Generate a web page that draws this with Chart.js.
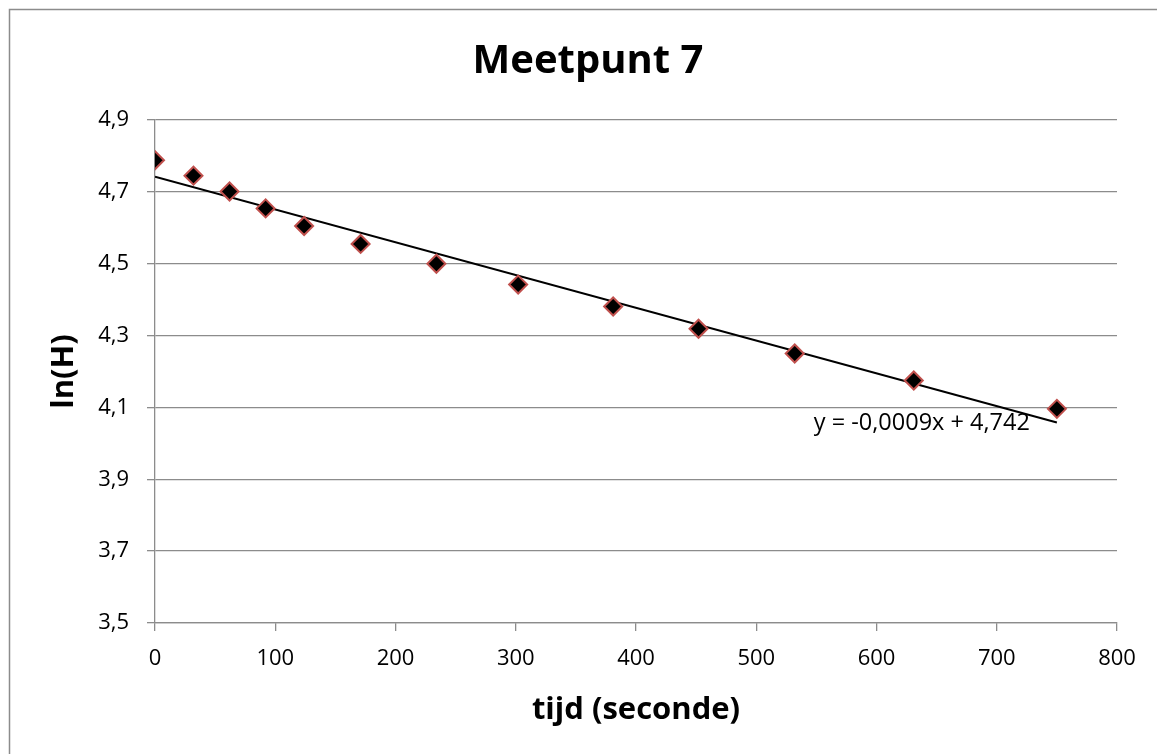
<!DOCTYPE html>
<html>
<head>
<meta charset="utf-8">
<script src="https://cdn.jsdelivr.net/npm/chart.js@4"></script>
<style>
  html, body { margin: 0; padding: 0; background: #fff; }
  #wrap { width: 1157px; height: 754px; position: relative; }
</style>
</head>
<body>
<div id="wrap"><canvas id="c" width="1157" height="754"></canvas></div>
<script>
// ---- data ----
const timeS = [0, 32, 62, 92, 124, 171, 234, 302, 381, 452, 532, 631, 750];
const lnH   = [4.788, 4.745, 4.701, 4.654, 4.605, 4.555, 4.500, 4.442, 4.381, 4.319, 4.250, 4.175, 4.096];
const trendX = [0, 750];
const trendY = [4.742, 4.058];
const equationText = 'y = -0,0009x + 4,742';
const titleText = 'Meetpunt 7';
const xTitle = 'tijd (seconde)';
const yTitle = 'ln(H)';
const xMin = 0, xMax = 800, xStep = 100;
const yMin = 3.5, yMax = 4.9, yStep = 0.2;

const GREY = '#8c8c8c';
const FONT = "'Open Sans', 'Liberation Sans', sans-serif";

const decorPlugin = {
  id: 'decor',
  beforeDraw(chart) {
    const ctx = chart.ctx;
    ctx.save();
    ctx.strokeStyle = GREY;
    ctx.lineWidth = 1.5;
    ctx.strokeRect(9.5, 9.5, 1200, 800);
    ctx.restore();
  },
  afterDraw(chart) {
    const ctx = chart.ctx;
    ctx.save();
    ctx.font = 'bold 40px ' + FONT;
    ctx.fillStyle = '#000';
    ctx.textAlign = 'center';
    ctx.textBaseline = 'alphabetic';
    ctx.fillText(titleText, 588, 73);
    ctx.restore();
  },
  afterDatasetsDraw(chart) {
    const ctx = chart.ctx;
    const xs = chart.scales.x, ys = chart.scales.y;
    const px = xs.getPixelForValue(trendX[1]) - 27;
    const py = ys.getPixelForValue(trendY[1]);
    ctx.save();
    ctx.font = '23.5px ' + FONT;
    ctx.fillStyle = '#000';
    ctx.textAlign = 'right';
    ctx.textBaseline = 'middle';
    ctx.fillText(equationText, px, py + 1);
    ctx.restore();
  }
};

const toComma = (v, d) => Number(v).toFixed(d).replace('.', ',');

new Chart(document.getElementById('c'), {
  type: 'scatter',
  data: {
    datasets: [
      {
        label: 'Meetpunt 7',
        data: timeS.map((t, i) => ({ x: t, y: lnH[i] })),
        pointStyle: 'rectRot',
        pointRadius: 9,
        pointHoverRadius: 9,
        backgroundColor: '#000000',
        borderColor: '#c0504d',
        pointBorderWidth: 2,
        showLine: false,
        order: 1
      },
      {
        label: 'Trendlijn',
        data: trendX.map((t, i) => ({ x: t, y: trendY[i] })),
        showLine: true,
        borderColor: '#000000',
        borderWidth: 2,
        pointRadius: 0,
        fill: false,
        order: 2
      }
    ]
  },
  options: {
    responsive: false,
    animation: false,
    devicePixelRatio: 1,
    layout: { padding: { top: 120, left: 0, right: 40, bottom: 0 } },
    plugins: {
      legend: { display: false },
      tooltip: { enabled: false },
      title: { display: false }
    },
    scales: {
      x: {
        type: 'linear',
        min: xMin, max: xMax,
        ticks: {
          stepSize: xStep,
          color: '#000',
          font: { family: FONT, size: 22 },
          padding: 15,
          maxRotation: 0,
          callback: v => String(v)
        },
        grid: { drawOnChartArea: false, drawTicks: true, tickLength: 8, color: GREY, lineWidth: 1.3 },
        border: { display: true, color: GREY, width: 1.3 },
        title: {
          display: true, text: xTitle, color: '#000',
          font: { family: FONT, size: 31, weight: 'bold', lineHeight: 1.2 },
          padding: { top: 0, bottom: 25 }
        },
        afterFit(scale) { scale.height = 131; }
      },
      y: {
        type: 'linear',
        min: yMin, max: yMax,
        ticks: {
          stepSize: yStep,
          color: '#000',
          font: { family: FONT, size: 22 },
          padding: 18,
          callback: v => toComma(v, 1)
        },
        grid: { drawOnChartArea: true, drawTicks: true, tickLength: 8, color: GREY, lineWidth: 1.3 },
        border: { display: true, color: GREY, width: 1.3 },
        title: {
          display: true, text: yTitle, color: '#000',
          font: { family: FONT, size: 31, weight: 'bold', lineHeight: 1.2 },
          padding: { top: 46, bottom: 0 }
        },
        afterFit(scale) { scale.width = 155; }
      }
    }
  },
  plugins: [decorPlugin]
});
</script>
</body>
</html>
